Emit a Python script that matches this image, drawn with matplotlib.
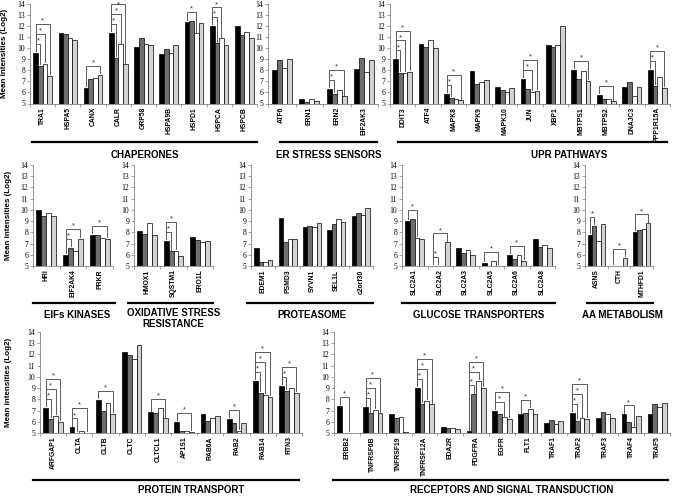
import numpy as np
import matplotlib
matplotlib.use('Agg')
import matplotlib.pyplot as plt

plt.rcParams['font.family'] = ['Liberation Sans', 'DejaVu Sans']

cond_colors = ['#000000', '#6e6e6e', '#ffffff', '#d2d2d2']

# ---- data (mean intensities, log2), 4 conditions per gene ----
chap_genes = ['TRA1', 'HSPA5', 'CANX', 'CALR', 'GRP58', 'HSPA9B', 'HSPD1', 'HSPCA', 'HSPCB']
chap_vals = [[9.6, 8.4, 8.6, 7.5], [11.4, 11.3, 10.9, 10.75], [6.4, 7.2, 7.3, 7.6],
             [11.4, 9.15, 10.35, 8.55], [10.1, 10.9, 10.35, 10.3], [9.45, 9.9, 9.6, 10.3],
             [12.4, 12.45, 11.35, 12.3], [12.0, 10.45, 10.9, 10.25], [12.0, 11.2, 11.5, 10.9]]
chap_sig = [('TRA1', 1), ('TRA1', 2), ('TRA1', 3), ('CANX', 3), ('CALR', 1), ('CALR', 2),
            ('CALR', 3), ('HSPD1', 2), ('HSPCA', 1), ('HSPCA', 2)]

er_genes = ['ATF6', 'ERN1', 'ERN2', 'EIF2AK3']
er_vals = [[8.0, 8.9, 8.2, 9.05], [5.4, 5.1, 5.45, 5.25], [6.35, 5.9, 6.25, 5.65], [8.15, 9.1, 7.85, 8.95]]
er_sig = [('ERN2', 1), ('ERN2', 3)]

upr_genes = ['DDIT3', 'ATF4', 'MAPK8', 'MAPK9', 'MAPK10', 'JUN', 'XBP1', 'MBTPS1', 'MBTPS2',
             'DNAJC3', 'PPP1R15A']
upr_vals = [[9.0, 7.75, 7.8, 7.85], [10.4, 10.15, 10.7, 10.0], [5.85, 5.5, 5.4, 5.3],
            [7.95, 6.8, 6.95, 7.15], [6.5, 6.2, 6.05, 6.4], [7.25, 6.3, 6.05, 6.15],
            [10.25, 10.15, 10.3, 12.0], [8.07, 7.22, 7.95, 7.07], [5.8, 5.4, 5.4, 5.2],
            [6.46, 6.98, 5.67, 6.52], [8.07, 6.6, 7.4, 6.4]]
upr_sig = [('DDIT3', 1), ('DDIT3', 2), ('DDIT3', 3), ('MAPK8', 1), ('MAPK8', 3), ('JUN', 2),
           ('JUN', 3), ('MBTPS1', 3), ('MBTPS2', 3), ('PPP1R15A', 1), ('PPP1R15A', 3)]

eif_genes = ['HRI', 'EIF2AK4', 'PRKR']
eif_vals = [[10.0, 9.45, 9.75, 9.45], [6.0, 6.6, 6.3, 7.4], [7.8, 7.8, 7.5, 7.4]]
eif_sig = [('EIF2AK4', 1), ('EIF2AK4', 3), ('PRKR', 3)]

ox_genes = ['HMOX1', 'SQSTM1', 'ERO1L']
ox_vals = [[8.1, 7.85, 8.85, 7.75], [7.25, 6.3, 6.35, 5.9], [7.55, 7.35, 7.1, 7.25]]
ox_sig = [('SQSTM1', 1), ('SQSTM1', 2)]

pro_genes = ['EDEM1', 'PSMD3', 'SYVN1', 'SEL1L', 'c2orf30']
pro_vals = [[6.6, 5.35, 5.35, 5.5], [9.3, 7.15, 7.45, 7.45], [8.45, 8.55, 8.5, 8.85],
            [8.25, 8.7, 9.2, 8.9], [9.45, 9.7, 9.55, 10.15]]
pro_sig = []

glu_genes = ['SLC2A1', 'SLC2A2', 'SLC2A3', 'SLC2A5', 'SLC2A6', 'SLC2A8']
glu_vals = [[9.0, 9.2, 7.5, 7.45], [5.0, 5.0, 5.0, 7.1], [6.57, 6.2, 6.45, 5.95],
            [5.3, 5.03, 5.42, 5.0], [6.0, 5.65, 5.95, 5.45], [7.43, 6.65, 6.85, 6.57]]
glu_sig = [('SLC2A1', 2), ('SLC2A2', 1), ('SLC2A2', 3), ('SLC2A5', 3), ('SLC2A6', 3)]

aa_genes = ['ASNS', 'CTH', 'MTHFD1']
aa_vals = [[7.75, 8.55, 7.25, 8.7], [5.0, 5.0, 5.0, 5.7], [8.05, 8.18, 8.32, 8.8]]
aa_sig = [('ASNS', 1), ('CTH', 3), ('MTHFD1', 3)]

pt_genes = ['ARFGAP1', 'CLTA', 'CLTB', 'CLTC', 'CLTCL1', 'AP1S1', 'RAB6A', 'RAB2', 'RAB14', 'RTN3']
pt_vals = [[7.22, 6.25, 6.5, 6.0], [5.5, 5.0, 5.2, 5.0], [7.95, 7.0, 7.65, 6.68],
           [12.25, 11.98, 11.55, 12.8], [6.85, 6.75, 7.25, 6.3], [6.0, 5.15, 5.2, 5.1],
           [6.65, 6.1, 6.35, 6.55], [6.25, 5.9, 5.2, 5.9], [9.65, 8.55, 8.4, 8.2],
           [9.2, 8.75, 9.0, 8.6]]
pt_sig = [('ARFGAP1', 1), ('ARFGAP1', 2), ('ARFGAP1', 3), ('CLTA', 1), ('CLTA', 3), ('CLTB', 3),
          ('CLTCL1', 3), ('AP1S1', 3), ('RAB2', 2), ('RAB14', 1), ('RAB14', 2), ('RAB14', 3),
          ('RTN3', 1), ('RTN3', 3)]

rec_genes = ['ERBB2', 'TNFRSF6B', 'TNFRSF19', 'TNFRSF12A', 'EDA2R', 'PDGFRA', 'EGFR', 'FLT1',
             'TRAF1', 'TRAF2', 'TRAF3', 'TRAF4', 'TRAF5']
rec_vals = [[7.45, 5.0, 5.0, 5.0], [7.3, 6.75, 7.08, 6.75], [6.72, 6.34, 6.42, 5.06],
            [9.0, 7.58, 7.85, 7.55], [5.55, 5.45, 5.45, 5.35], [5.15, 8.45, 9.62, 9.05],
            [6.95, 6.7, 6.4, 6.25], [6.66, 6.78, 7.14, 6.72], [5.9, 6.16, 5.8, 6.04],
            [6.8, 6.07, 6.3, 6.25], [6.37, 6.84, 6.69, 6.34], [6.66, 5.98, 5.5, 6.48],
            [6.72, 7.55, 7.34, 7.64]]
rec_sig = [('ERBB2', 2), ('TNFRSF6B', 1), ('TNFRSF6B', 2), ('TNFRSF6B', 3), ('TNFRSF12A', 1),
           ('TNFRSF12A', 2), ('TNFRSF12A', 3), ('PDGFRA', 1), ('PDGFRA', 2), ('PDGFRA', 3),
           ('EGFR', 2), ('EGFR', 3), ('FLT1', 2), ('TRAF2', 1), ('TRAF2', 2), ('TRAF2', 3),
           ('TRAF4', 2)]

fig = plt.figure(figsize=(6.78, 4.97), dpi=100)
W, H = 678.0, 497.0


def panel(px0, px1, py_bot, py_top, genes, vals, sig, title, line_span, title_x,
          line_y, title_y, ylab_x=None):
    ax = fig.add_axes([px0 / W, 1 - py_bot / H, (px1 - px0) / W, (py_bot - py_top) / H])
    vals = np.array(vals)
    x = np.arange(len(genes))
    w = 0.185
    offs = (np.arange(4) - 1.5) * w
    for k in range(4):
        ax.bar(x + offs[k], vals[:, k] - 5, w, bottom=5, color=cond_colors[k],
               edgecolor='black', linewidth=0.5, zorder=2)
    # significance brackets (always against first condition)
    prev = {}
    for g, j in sig:
        gi = genes.index(g)
        h = vals[gi, :j + 1].max() + 0.8
        if g in prev:
            h = max(h, prev[g] + 0.9)
        prev[g] = h
        x0, x1 = gi + offs[0], gi + offs[j]
        ax.plot([x0, x0, x1, x1], [vals[gi, 0] + 0.15, h, h, vals[gi, j] + 0.15],
                color='#5a5a5a', lw=0.7, clip_on=False, zorder=3)
        ax.text((x0 + x1) / 2, min(h - 0.05, 13.6), '*', ha='center', va='bottom',
                fontsize=5.5, color='#333333', clip_on=False)
    ax.set_xlim(-0.5, len(genes) - 0.5)
    ax.set_ylim(5, 14)
    ax.set_yticks(range(5, 15))
    ax.set_xticks(x)
    ax.set_xticklabels(genes, rotation=90, fontsize=4.9, fontweight='bold')
    ax.set_xticks(np.arange(len(genes) + 1) - 0.5, minor=True)
    ax.tick_params(axis='x', which='major', length=0, pad=2.5)
    ax.tick_params(axis='x', which='minor', length=2.5, width=0.5, color='#808080')
    ax.tick_params(axis='y', length=2, width=0.5, color='#808080', pad=1.5,
                   labelsize=5.5, labelfontfamily='Liberation Serif')
    for s in ['top', 'right']:
        ax.spines[s].set_visible(False)
    for s in ['left', 'bottom']:
        ax.spines[s].set_color('#808080')
        ax.spines[s].set_linewidth(0.6)
    if ylab_x is not None:
        ax.set_ylabel('Mean intensities (Log2)', fontsize=5.8, fontweight='bold')
        ax.yaxis.set_label_coords(ylab_x, 0.5)
    ax.plot(line_span, [line_y, line_y], transform=ax.transAxes, color='black', lw=1.6,
            clip_on=False)
    ax.text(title_x, title_y, title, transform=ax.transAxes, ha='center', va='center',
            fontsize=7, fontweight='bold', linespacing=1.1)
    return ax


# row 1
panel(30, 257, 103.5, 4, chap_genes, chap_vals, chap_sig, 'CHAPERONES',
      [0.01, 1.0], 0.507, -0.387, -0.52, ylab_x=-0.097)
panel(268, 378, 103.5, 4, er_genes, er_vals, er_sig, 'ER STRESS SENSORS',
      [0.11, 0.99], 0.55, -0.387, -0.52)
panel(390, 670, 103.5, 4, upr_genes, upr_vals, upr_sig, 'UPR PATHWAYS',
      [0.03, 0.99], 0.64, -0.387, -0.52)

# row 2
panel(33, 113, 266, 165, eif_genes, eif_vals, eif_sig, 'EIFs KINASES',
      [0.0, 1.02], 0.55, -0.366, -0.485, ylab_x=-0.26)
panel(134, 213, 266, 165, ox_genes, ox_vals, ox_sig, 'OXIDATIVE STRESS\nRESISTANCE',
      [-0.08, 1.0], 0.5, -0.366, -0.52)
panel(251, 373, 266, 165, pro_genes, pro_vals, pro_sig, 'PROTEASOME',
      [-0.03, 1.0], 0.5, -0.366, -0.485)
panel(402, 555, 266, 165, glu_genes, glu_vals, glu_sig, 'GLUCOSE TRANSPORTERS',
      [0.0, 1.0], 0.5, -0.366, -0.485)
panel(585, 653, 266, 165, aa_genes, aa_vals, aa_sig, 'AA METABOLISM',
      [0.03, 1.0], 0.55, -0.366, -0.485)

# row 3
panel(40, 302, 433, 332, pt_genes, pt_vals, pt_sig, 'PROTEIN TRANSPORT',
      [-0.027, 0.99], 0.576, -0.465, -0.564, ylab_x=-0.107)
panel(334, 670, 433, 332, rec_genes, rec_vals, rec_sig, 'RECEPTORS AND SIGNAL TRANSDUCTION',
      [-0.003, 0.994], 0.53, -0.465, -0.564)

fig.savefig('out.png', dpi=100)
